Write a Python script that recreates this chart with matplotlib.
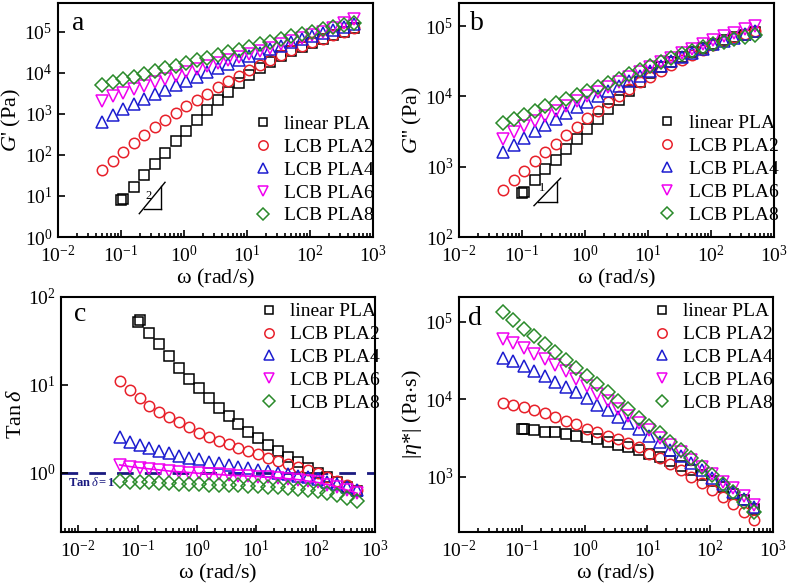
import math
import matplotlib
matplotlib.use("Agg")
import matplotlib.pyplot as plt
from matplotlib.ticker import LogLocator, NullLocator, FuncFormatter, NullFormatter

plt.rcParams['font.family'] = ['Liberation Serif', 'DejaVu Serif']
plt.rcParams['mathtext.fontset'] = 'custom'
plt.rcParams['mathtext.rm'] = 'Liberation Serif'
plt.rcParams['mathtext.it'] = 'Liberation Serif:italic'
plt.rcParams['mathtext.bf'] = 'Liberation Serif:bold'

# angular frequency (rad/s)
omega = [0.05, 0.0734, 0.108, 0.158, 0.232, 0.341, 0.5, 0.734, 1.08, 1.58,
         2.32, 3.41, 5.0, 7.34, 10.8, 15.8, 23.2, 34.1, 50.0, 73.4,
         108, 158, 232, 341, 500]
omega_lin = [0.1, 0.108, 0.158, 0.232, 0.341, 0.5, 0.734, 1.08, 1.58,
             2.32, 3.41, 5.0, 7.34, 10.8, 15.8, 23.2, 34.1, 50.0, 73.4,
             108, 158, 232, 341, 500]

labels = ['linear PLA', 'LCB PLA2', 'LCB PLA4', 'LCB PLA6', 'LCB PLA8']

# storage modulus G' (Pa)
gp_lin = [8.0, 8.6, 16.5, 33, 60, 110, 215, 385, 700, 1230, 2150, 3400, 5500,
          8600, 13200, 18500, 26000, 34000, 43000, 54000, 67000, 82000, 100000, 120000]
gp_2 = [42, 70, 120, 200, 300, 470, 700, 1050, 1550, 2200, 3100, 4400, 6200,
        8500, 11500, 15500, 20500, 27000, 35000, 44000, 55000, 68000, 83000, 100000, 120000]
gp_4 = [650, 950, 1300, 1750, 2300, 3000, 3900, 5000, 6400, 8100, 10200, 12800, 16000,
        20000, 25000, 31000, 38000, 46000, 56000, 67000, 80000, 95000, 112000, 132000, 155000]
gp_6 = [2000, 2700, 3300, 4000, 4900, 5900, 7100, 8500, 10200, 12200, 14500, 17300, 20500,
        24500, 29000, 34500, 41000, 49000, 58000, 69000, 82000, 100000, 125000, 160000, 200000]
gp_8 = [5000, 6000, 7000, 8000, 9500, 11000, 13000, 15000, 17500, 20000, 23500, 27000, 31500,
        36000, 42000, 49000, 57000, 66000, 77000, 88000, 100000, 115000, 130000, 145000, 165000]

# loss modulus G'' (Pa)
gpp_lin = [420, 440, 650, 920, 1250, 1780, 2450, 3400, 4800, 6600, 9000, 11800, 16300,
           21500, 26000, 31000, 36500, 42500, 49000, 56000, 63000, 70000, 76000, 82000]
gpp_2 = [470, 650, 880, 1200, 1600, 2100, 2850, 3700, 4900, 6200, 8300, 10000, 12700,
         15800, 19000, 23000, 28000, 33000, 39500, 46000, 54000, 62000, 70000, 78000, 86000]
gpp_4 = [1600, 2050, 2600, 3200, 3900, 4800, 5800, 7000, 8400, 10000, 11800, 14000, 16500,
         19500, 23000, 27000, 31500, 36500, 42000, 48000, 55000, 62000, 69000, 77000, 85000]
gpp_6 = [2500, 3100, 3800, 4500, 5300, 6200, 7300, 8500, 10000, 11700, 13800, 16200, 19000,
         22300, 26000, 30500, 35500, 41000, 47500, 55000, 63000, 72000, 81000, 91000, 100000]
gpp_8 = [4200, 4800, 5500, 6300, 7200, 8100, 9200, 10500, 12000, 13700, 15700, 18000, 20700,
         23800, 27300, 31000, 35500, 40000, 45000, 50000, 55500, 60500, 65500, 70000, 75000]

# loss tangent
tan_lin = [52, 55, 39, 29, 21, 15.6, 11.6, 9.1, 7.0, 5.5, 4.4, 3.57, 2.93, 2.45,
           2.06, 1.76, 1.52, 1.31, 1.14, 1.0, 0.9, 0.79, 0.69, 0.61]
tan_2 = [11.1, 8.7, 7.0, 5.7, 4.9, 4.3, 3.73, 3.33, 2.85, 2.56, 2.31, 2.12, 1.9,
         1.75, 1.62, 1.48, 1.37, 1.25, 1.17, 1.07, 1.0, 0.9, 0.81, 0.72, 0.63]
tan_4 = [2.52, 2.25, 2.06, 1.89, 1.76, 1.66, 1.56, 1.48, 1.41, 1.33, 1.28, 1.22, 1.17,
         1.12, 1.07, 1.03, 1.0, 0.96, 0.92, 0.88, 0.84, 0.79, 0.74, 0.69, 0.64]
tan_6 = [1.22, 1.17, 1.13, 1.10, 1.07, 1.04, 1.02, 1.0, 0.98, 0.96, 0.95, 0.93, 0.92,
         0.91, 0.9, 0.88, 0.87, 0.85, 0.83, 0.8, 0.77, 0.73, 0.68, 0.63, 0.58]
tan_8 = [0.81, 0.79, 0.78, 0.77, 0.76, 0.75, 0.745, 0.74, 0.735, 0.73, 0.725, 0.72, 0.715,
         0.71, 0.70, 0.69, 0.68, 0.665, 0.65, 0.63, 0.61, 0.58, 0.55, 0.51, 0.47]

# complex viscosity (Pa.s)
eta_lin = [4200, 4150, 4000, 3850, 3750, 3550, 3400, 3300, 3100, 2850, 2600, 2400, 2220,
           2000, 1830, 1600, 1400, 1220, 1050, 890, 740, 610, 500, 390]
eta_2 = [9000, 8500, 8000, 7300, 6600, 6000, 5300, 4800, 4200, 3850, 3400, 3100, 2700,
         2400, 2000, 1730, 1450, 1220, 1000, 830, 680, 550, 450, 350, 275]
eta_4 = [34000, 31500, 27000, 23500, 20000, 17000, 14400, 12300, 10300, 8500, 7200, 6000, 4900,
         4100, 3350, 2800, 2250, 1850, 1500, 1220, 980, 800, 640, 515, 410]
eta_6 = [60000, 53000, 45500, 39000, 33000, 27500, 23000, 18300, 14700, 11800, 9400, 7500, 6100,
         4900, 4000, 3200, 2600, 2100, 1650, 1350, 1080, 870, 720, 570, 430]
eta_8 = [133000, 105000, 82000, 65000, 52000, 41000, 32500, 25400, 20000, 15700, 12300, 9600, 7500,
         5800, 4600, 3650, 2850, 2200, 1730, 1350, 1050, 820, 640, 480, 350]

colors = ['black', '#e8202a', '#1c1cd0', '#f000f0', '#2a8a2a']
markers = ['s', 'o', '^', 'v', 'D']
msizes = [6.5, 7.5, 8, 8, 7]

W, H = 787, 588
fig = plt.figure(figsize=(W / 100, H / 100), dpi=100)


def make_ax(l, t, r, b):
    return fig.add_axes([l / W, 1 - b / H, (r - l) / W, (b - t) / H])


ax_a = make_ax(58, 3, 373, 237)
ax_b = make_ax(459, 3, 774, 237)
ax_c = make_ax(61, 297, 375, 532)
ax_d = make_ax(459, 297, 773, 532)

pow_fmt = FuncFormatter(lambda v, p: r'$10^{%d}$' % round(math.log10(v)))


def style(ax, xlim, ylim, ylabel):
    ax.set_xscale('log')
    ax.set_yscale('log')
    ax.set_xlim(*xlim)
    ax.set_ylim(*ylim)
    ax.xaxis.set_major_locator(LogLocator(base=10, numticks=10))
    ax.xaxis.set_minor_locator(LogLocator(base=10, subs=range(2, 10), numticks=20))
    ax.xaxis.set_minor_formatter(NullFormatter())
    ax.yaxis.set_major_locator(LogLocator(base=10, numticks=10))
    ax.yaxis.set_minor_locator(NullLocator())
    ax.xaxis.set_major_formatter(pow_fmt)
    ax.yaxis.set_major_formatter(pow_fmt)
    ax.tick_params(which='both', direction='in', top=False, right=False,
                   labelsize=14, width=1.2)
    ax.tick_params(which='major', length=5)
    ax.tick_params(which='minor', length=3)
    ax.tick_params(axis='x', pad=6)
    ax.tick_params(axis='y', pad=4)
    for s in ax.spines.values():
        s.set_linewidth(1.5)
    ax.set_xlabel(r'$\mathrm{\omega}$ (rad/s)', fontsize=16, labelpad=0)
    ax.set_ylabel(ylabel, fontsize=16, labelpad=1)


def draw(ax, series, leg_xy, letter, letter_xy, lines=()):
    for i, (x, y) in enumerate(series):
        if i in lines:
            ax.plot(x, y, '-', lw=1.2, color=colors[i])
        ax.plot(x, y, linestyle='none', marker=markers[i], ms=msizes[i],
                mfc='none', mec=colors[i], mew=1.1, label=labels[i])
    ax.legend(loc='upper left', bbox_to_anchor=leg_xy, frameon=False, fontsize=14,
              handlelength=1.0, handletextpad=0.6, labelspacing=0.27,
              borderaxespad=0, borderpad=0, markerscale=0.9)
    ax.text(letter_xy[0], letter_xy[1], letter, transform=ax.transAxes,
            fontsize=20, va='baseline', ha='left')


# a: G'
style(ax_a, (1e-2, 1e3), (1, 10 ** 5.7), r"$G$' (Pa)")
draw(ax_a, [(omega_lin, gp_lin), (omega, gp_2), (omega, gp_4), (omega, gp_6), (omega, gp_8)],
     (0.62, 0.52), 'a', (0.045, 0.885))
ax_a.plot([0.195, 0.50], [3.7, 21.5], color='black', lw=1)
ax_a.plot([0.43, 0.43], [4.8, 17], color='black', lw=1)
ax_a.plot([0.23, 0.43], [4.8, 4.8], color='black', lw=1)
ax_a.text(0.27, 9.8, '2', fontsize=9, ha='center', va='center')

# b: G''
style(ax_b, (1e-2, 1e3), (100, 10 ** 5.33), r"$G$'' (Pa)")
draw(ax_b, [(omega_lin, gpp_lin), (omega, gpp_2), (omega, gpp_4), (omega, gpp_6), (omega, gpp_8)],
     (0.63, 0.523), 'b', (0.035, 0.885))
ax_b.plot([0.155, 0.41], [279, 688], color='black', lw=1)
ax_b.plot([0.354, 0.354], [320, 598], color='black', lw=1)
ax_b.plot([0.18, 0.354], [320, 320], color='black', lw=1)
ax_b.text(0.21, 496, '1', fontsize=9, ha='center', va='center')

# c: tan delta
style(ax_c, (10 ** -2.29, 1e3), (0.21, 100), r'Tan$\,\delta$')
ax_c.axhline(1.0, color='#1a1a80', lw=2, ls=(0, (6, 4)), zorder=1)
draw(ax_c, [(omega_lin, tan_lin), (omega, tan_2), (omega, tan_4), (omega, tan_6), (omega, tan_8)],
     (0.63, 0.975), 'c', (0.041, 0.898), lines=(3,))
ax_c.text(0.0068, 0.76, r'$\mathbf{Tan}\,\delta\mathbf{=1}$', fontsize=9, color='#1a1a80',
          ha='left', va='center')

# d: complex viscosity
style(ax_d, (1e-2, 1e3), (195, 10 ** 5.32), r'$|\eta$*$|$ (Pa$\cdot$s)')
draw(ax_d, [(omega_lin, eta_lin), (omega, eta_2), (omega, eta_4), (omega, eta_6), (omega, eta_8)],
     (0.615, 0.975), 'd', (0.029, 0.88))

fig.savefig('out.png', dpi=100)
